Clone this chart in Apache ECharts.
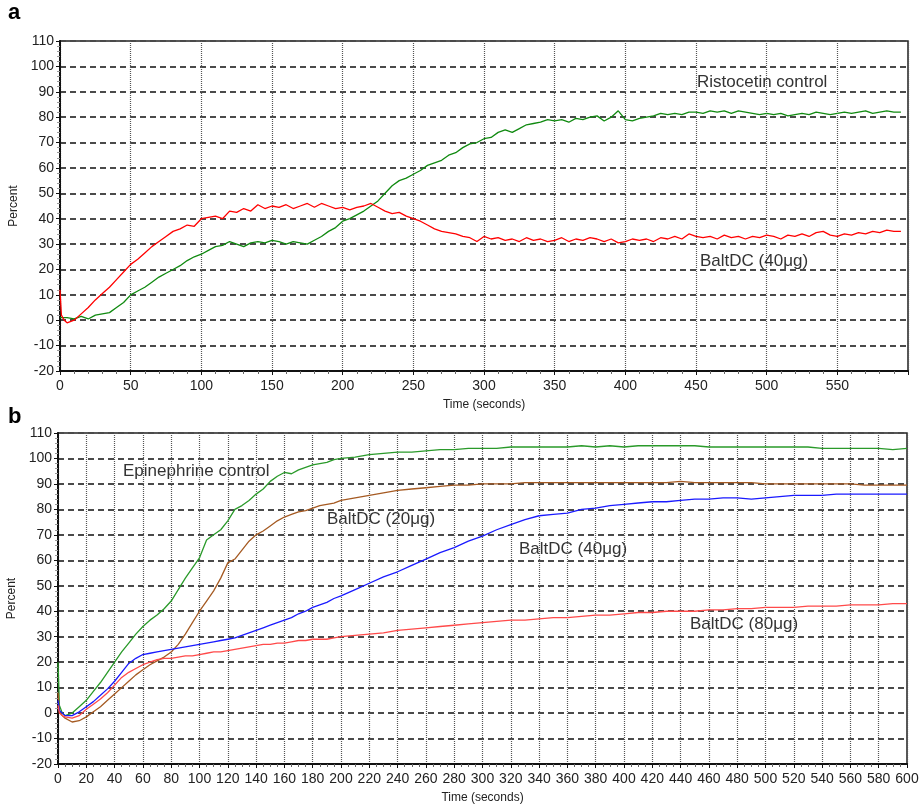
<!DOCTYPE html>
<html>
<head>
<meta charset="utf-8">
<script src="https://cdn.jsdelivr.net/npm/echarts@6/dist/echarts.min.js"></script>
<style>html,body{margin:0;padding:0;background:#fff}#c{width:919px;height:804px}</style>
</head>
<body>
<div id="c"></div>
<script>
// ---------- Panel a (Ristocetin) ----------
const topStartTime = [0, 1, 3];
const topStepTime = 5;      // sampling step of the traces after the first points
const topLastTime = 595;
const topRed = [12, 2, 0,
  -1, 0, 2.5, 5, 8, 10.5, 13, 16, 19, 22,
  24, 26.5, 29, 31, 33, 35, 36, 37.5, 37, 40,
  40.5, 41, 40, 43, 42.5, 44, 43, 45.5, 44, 45,
  44.5, 45.5, 44, 45, 46, 44.5, 46, 45, 44, 44.5,
  43.5, 44.5, 45, 46, 44.5, 43, 42, 42.5, 41, 40,
  39, 37.5, 36, 35, 34.5, 34, 33, 32.5, 31, 33,
  32, 32.5, 31.5, 32, 31, 32.5, 31.5, 32, 31, 31.5,
  32.5, 31, 32, 31.5, 32.5, 32, 31, 32, 30.5, 31,
  32, 31.5, 32, 31, 32.5, 32, 33, 32, 34, 33,
  32.5, 33, 32, 33.5, 32.5, 33, 32, 33, 32.5, 33.5,
  33, 32, 33.5, 33, 34, 33, 34.5, 35, 33.5, 33,
  34, 33.5, 34.5, 34, 35, 34.5, 35.5, 35, 35];
const topGreen = [1, 0.5, 1,
  1, 0.5, 1.5, 0.5, 2, 2.5, 3, 5, 7, 10,
  11.5, 13, 15, 17, 18.5, 20, 21.5, 23.5, 25, 26,
  27.5, 29, 29.5, 31, 30, 29, 30.5, 31, 30.5, 31.5,
  31, 30, 31, 30.5, 30, 31.5, 33, 35, 36.5, 39,
  40, 41.5, 43, 45, 47, 50, 53, 55, 56, 57.5,
  59, 61, 62, 63, 65, 66, 68, 69.5, 70, 71.5,
  72, 74, 75, 74, 75.5, 77, 77.5, 78, 79, 78.5,
  79, 78, 79.5, 79, 80, 80.5, 78.5, 80, 82.5, 79,
  78.5, 79.5, 80, 80.5, 81.5, 81, 81.5, 81, 82, 82,
  81.5, 82.5, 82, 82.5, 81.5, 82.5, 82, 81.5, 81, 81.5,
  81, 81.5, 80.5, 81, 81.5, 81, 82, 81.5, 81, 81.5,
  82, 81.5, 82, 82.5, 81.5, 82, 82.5, 82, 82];
const topXTicks = [0, 50, 100, 150, 200, 250, 300, 350, 400, 450, 500, 550];

// ---------- Panel b (Epinephrine) ----------
const botStartTime = [0, 1, 3];
const botFineStep = 5, botFineEnd = 200, botCoarseStep = 10, botLastTime = 600;
const botGreen = [20, 3, 0,
  -1, 0, 2.5, 5, 8.5, 12, 16, 20, 24, 27.5,
  31, 34, 36.5, 38.5, 41, 44, 48.5, 53, 57, 61,
  68, 70, 72, 75.5, 80, 81.5, 83.5, 86, 88, 91,
  93, 94.5, 94, 95.5, 96.5, 97.5, 98, 98.5, 99.5, 100,
  100.5, 101.5, 102, 102.5, 102.5, 103, 103.5, 103.5, 104, 104,
  104, 104.5, 104.5, 104.5, 104.5, 104.5, 105, 104.5, 105, 104.5,
  105, 105, 105, 105, 105, 104.5, 104.5, 104.5, 104.5, 104.5,
  104.5, 104.5, 104.5, 104, 104, 104, 104, 104, 103.5, 104];
const botBrown = [8, 1, -1,
  -2, -3.5, -3, -1.5, 0.5, 2.5, 5, 7.5, 10, 12.5,
  15, 17, 19, 20.5, 22, 24, 27, 31, 35.5, 40,
  44, 48, 53, 59, 60.5, 64, 67.5, 70, 71.5, 73.5,
  75.5, 77, 78, 79, 79.5, 80.5, 81.5, 82, 82.5, 83.5,
  84.5, 85.5, 86.5, 87.5, 88, 88.5, 89, 89.5, 89.5, 90,
  90, 90, 90.5, 90.5, 90.5, 90.5, 90.5, 90.5, 90.5, 90.5,
  90.5, 90.5, 90.5, 91, 90.5, 90.5, 90.5, 90.5, 90.5, 90,
  90, 90, 90, 90, 90, 90, 89.5, 89.5, 89.5, 89.5];
const botBlue = [5, 1, 0,
  -1, -1, 0.5, 2.5, 4.5, 7, 9.5, 12.5, 16, 19.5,
  21.5, 23, 23.5, 24, 24.5, 25, 25.5, 26, 26.5, 27,
  27.5, 28, 28.5, 29, 29.5, 30.5, 31.5, 32.5, 33.5, 34.5,
  35.5, 36.5, 37.5, 39, 40, 41.5, 42.5, 43.5, 45, 46,
  48.5, 51, 53.5, 55.5, 58, 60.5, 63, 65, 67.5, 69.5,
  72, 74, 76, 77.5, 78, 78.5, 80, 80.5, 81.5, 82,
  82.5, 83, 83, 83.5, 84, 84, 84.5, 84.5, 84, 84.5,
  85, 85.5, 85.5, 85.5, 86, 86, 86, 86, 86, 86];
const botRed = [3, 0, -1,
  -1.5, -2, -1, 1.5, 3.5, 5.5, 8, 11, 14, 16,
  17.5, 19, 20, 21, 21.5, 21.5, 22, 22.5, 22.5, 23,
  23.5, 24, 24, 24.5, 25, 25.5, 26, 26.5, 27, 27,
  27.5, 27.5, 28, 28.5, 28.5, 29, 29, 29, 29.5, 30,
  30.5, 31, 31.5, 32.5, 33, 33.5, 34, 34.5, 35, 35.5,
  36, 36.5, 36.5, 37, 37.5, 37.5, 38, 38.5, 38.5, 39,
  39.5, 39.5, 40, 40, 40, 40.5, 40.5, 41, 41, 41.5,
  41.5, 41.5, 42, 42, 42, 42.5, 42.5, 42.5, 43, 43];

const yTicks = [-20, -10, 0, 10, 20, 30, 40, 50, 60, 70, 80, 90, 100, 110];

// ---------- build sample times ----------
const topTime = topStartTime.slice();
for (let t = topStepTime; t <= topLastTime; t += topStepTime) topTime.push(t);
const botTime = botStartTime.slice();
for (let t = botFineStep; t <= botFineEnd; t += botFineStep) botTime.push(t);
for (let t = botFineEnd + botCoarseStep; t <= botLastTime; t += botCoarseStep) botTime.push(t);
const pairs = (times, vals) => vals.map((v, i) => [times[i], v]);

const FONT = 'Liberation Sans, Arial, sans-serif';
const hSplit = { show: true, lineStyle: { color: '#4a4a4a', width: 2, type: [6, 4] } };
const vSplit = { show: true, lineStyle: { color: '#555', width: 1.2, type: [1, 1] } };
function yAxis(gi) {
  return {
    type: 'value', gridIndex: gi, min: -20, max: 110, interval: 10,
    name: 'Percent', nameLocation: 'middle', nameGap: 38,
    nameTextStyle: { fontFamily: FONT, fontSize: 12, color: '#222' },
    axisLine: { show: true, lineStyle: { color: '#111', width: 2 } },
    axisTick: { show: true, length: 4, lineStyle: { color: '#111' } },
    minorTick: { show: true, splitNumber: 5, length: 3, lineStyle: { color: '#999' } },
    axisLabel: { fontFamily: FONT, fontSize: 14, color: '#222', margin: 6,
      formatter: v => (yTicks.indexOf(v) >= 0 ? String(v) : '') },
    splitLine: Object.assign({}, hSplit)
  };
}
const chart = echarts.init(document.getElementById('c'), null, { renderer: 'canvas' });
chart.setOption({
  animation: false,
  backgroundColor: '#fff',
  grid: [
    { left: 60, top: 41, width: 848, height: 330, show: true, borderColor: '#222', borderWidth: 1.5, containLabel: false, outerBoundsMode: 'none' },
    { left: 58, top: 433, width: 849, height: 331, show: true, borderColor: '#222', borderWidth: 1.5, containLabel: false, outerBoundsMode: 'none' }
  ],
  xAxis: [
    { type: 'value', gridIndex: 0, min: 0, max: 600, interval: 50,
      name: 'Time (seconds)', nameLocation: 'middle', nameGap: 28,
      nameTextStyle: { fontFamily: FONT, fontSize: 12, color: '#222' },
      axisLine: { show: true, onZero: false, lineStyle: { color: '#111', width: 2 } },
      axisTick: { show: true, length: 4, lineStyle: { color: '#111' } },
      minorTick: { show: true, splitNumber: 5, length: 3, lineStyle: { color: '#666' } },
      axisLabel: { fontFamily: FONT, fontSize: 14, color: '#222', margin: 8,
        formatter: v => (topXTicks.indexOf(v) >= 0 ? String(v) : '') },
      splitLine: vSplit },
    { type: 'value', gridIndex: 1, min: 0, max: 600, interval: 20,
      name: 'Time (seconds)', nameLocation: 'middle', nameGap: 28,
      nameTextStyle: { fontFamily: FONT, fontSize: 12, color: '#222' },
      axisLine: { show: true, onZero: false, lineStyle: { color: '#111', width: 2 } },
      axisTick: { show: true, length: 4, lineStyle: { color: '#111' } },
      minorTick: { show: true, splitNumber: 4, length: 3, lineStyle: { color: '#666' } },
      axisLabel: { fontFamily: FONT, fontSize: 14, color: '#222', margin: 8 },
      splitLine: vSplit }
  ],
  yAxis: [yAxis(0), yAxis(1)],
  series: [
    { name: 'Ristocetin control', type: 'line', xAxisIndex: 0, yAxisIndex: 0, showSymbol: false,
      data: pairs(topTime, topGreen), lineStyle: { color: '#108a10', width: 1.3 } },
    { name: 'BaltDC (40μg)', type: 'line', xAxisIndex: 0, yAxisIndex: 0, showSymbol: false,
      data: pairs(topTime, topRed), lineStyle: { color: '#ff0000', width: 1.3 } },
    { name: 'Epinephrine control', type: 'line', xAxisIndex: 1, yAxisIndex: 1, showSymbol: false,
      data: pairs(botTime, botGreen), lineStyle: { color: '#2a9a2a', width: 1.3 } },
    { name: 'BaltDC (20μg)', type: 'line', xAxisIndex: 1, yAxisIndex: 1, showSymbol: false,
      data: pairs(botTime, botBrown), lineStyle: { color: '#a55a22', width: 1.3 } },
    { name: 'BaltDC (40μg) b', type: 'line', xAxisIndex: 1, yAxisIndex: 1, showSymbol: false,
      data: pairs(botTime, botBlue), lineStyle: { color: '#1a1aff', width: 1.3 } },
    { name: 'BaltDC (80μg)', type: 'line', xAxisIndex: 1, yAxisIndex: 1, showSymbol: false,
      data: pairs(botTime, botRed), lineStyle: { color: '#ff4a4a', width: 1.3 } }
  ],
  graphic: [
    { type: 'text', left: 8, top: 2, style: { text: 'a', fontFamily: FONT, fontWeight: 'bold', fontSize: 22, fill: '#000' } },
    { type: 'text', left: 8, top: 406, style: { text: 'b', fontFamily: FONT, fontWeight: 'bold', fontSize: 22, fill: '#000' } },
    { type: 'text', left: 697, top: 74, style: { text: 'Ristocetin control', fontFamily: FONT, fontSize: 17, fill: '#333' } },
    { type: 'text', left: 700, top: 253, style: { text: 'BaltDC (40μg)', fontFamily: FONT, fontSize: 17, fill: '#333' } },
    { type: 'text', left: 123, top: 463, style: { text: 'Epinephrine control', fontFamily: FONT, fontSize: 17, fill: '#333' } },
    { type: 'text', left: 327, top: 511, style: { text: 'BaltDC (20μg)', fontFamily: FONT, fontSize: 17, fill: '#333' } },
    { type: 'text', left: 519, top: 541, style: { text: 'BaltDC (40μg)', fontFamily: FONT, fontSize: 17, fill: '#333' } },
    { type: 'text', left: 690, top: 616, style: { text: 'BaltDC (80μg)', fontFamily: FONT, fontSize: 17, fill: '#333' } }
  ]
});
</script>
</body>
</html>
